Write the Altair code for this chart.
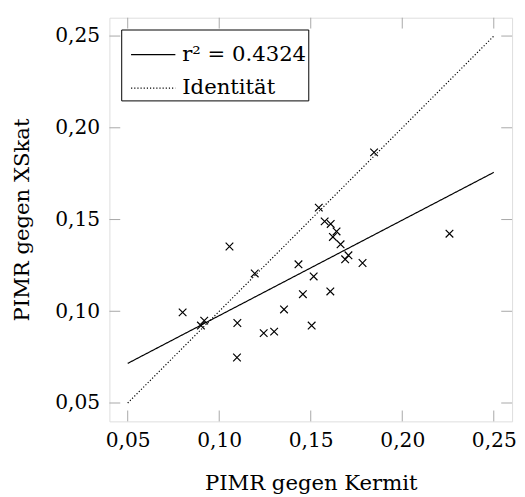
import altair as alt
import pandas as pd

# Scatter data
kermit = [0.1544, 0.1576, 0.1609, 0.1641, 0.1621, 0.1663, 0.1706, 0.1688, 0.1783,
          0.2258, 0.1056, 0.1194, 0.1433, 0.1516, 0.1457, 0.1607, 0.1354, 0.0800,
          0.0918, 0.0900, 0.1099, 0.1243, 0.1300, 0.1505, 0.1097, 0.1846]
xskat = [0.1565, 0.1490, 0.1476, 0.1435, 0.1405, 0.1365, 0.1305, 0.1283, 0.1263,
         0.1423, 0.1353, 0.1206, 0.1256, 0.1190, 0.1093, 0.1108, 0.1010, 0.0994,
         0.0949, 0.0922, 0.0936, 0.0881, 0.0889, 0.0922, 0.0748, 0.1866]

# Lines
line_names = ["r² = 0.4324", "r² = 0.4324", "Identität", "Identität"]
line_x = [0.05, 0.25, 0.05, 0.25]
line_y = [0.0716, 0.1757, 0.05, 0.25]

ticks = [0.05, 0.10, 0.15, 0.20, 0.25]
domain = [0.04, 0.26]

W, H = 409, 410
FONT = "DejaVu Serif"

pts = pd.DataFrame({"x": kermit, "y": xskat})
lines = pd.DataFrame({"name": line_names, "x": line_x, "y": line_y})
tk = pd.DataFrame({"t": ticks})

label_expr = "replace(datum.label, '.', ',')"
xscale = alt.Scale(domain=domain, nice=False, zero=False)
yscale = alt.Scale(domain=domain, nice=False, zero=False)

xaxis = alt.Axis(values=ticks, format=".2f", labelExpr=label_expr, title="PIMR gegen Kermit",
                 domain=False, ticks=False, grid=False, labelPadding=10, titlePadding=22,
                 labelFontSize=20.5, titleFontSize=21.5, labelFont=FONT, titleFont=FONT,
                 labelColor="black", titleColor="black", titleFontWeight="normal")
yaxis = alt.Axis(values=ticks, format=".2f", labelExpr=label_expr, title="PIMR gegen XSkat",
                 domain=False, ticks=False, grid=False, labelPadding=10, titlePadding=22,
                 labelFontSize=20.5, titleFontSize=21.5, labelFont=FONT, titleFont=FONT,
                 labelColor="black", titleColor="black", titleFontWeight="normal")

tick_color = "#a8a8a8"
tick_len = 11

bottom_ticks = alt.Chart(tk).mark_rule(color=tick_color, strokeWidth=1).encode(
    x=alt.X("t:Q", scale=xscale, axis=xaxis), y=alt.value(H), y2=alt.value(H - tick_len))
top_ticks = alt.Chart(tk).mark_rule(color=tick_color, strokeWidth=1).encode(
    x=alt.X("t:Q", scale=xscale), y=alt.value(0), y2=alt.value(tick_len))
left_ticks = alt.Chart(tk).mark_rule(color=tick_color, strokeWidth=1).encode(
    y=alt.Y("t:Q", scale=yscale, axis=yaxis), x=alt.value(0), x2=alt.value(tick_len))
right_ticks = alt.Chart(tk).mark_rule(color=tick_color, strokeWidth=1).encode(
    y=alt.Y("t:Q", scale=yscale), x=alt.value(W), x2=alt.value(W - tick_len))

line_layer = alt.Chart(lines).mark_line(color="black", strokeWidth=1.2).encode(
    x=alt.X("x:Q", scale=xscale),
    y=alt.Y("y:Q", scale=yscale),
    strokeDash=alt.StrokeDash(
        "name:N",
        scale=alt.Scale(domain=["r² = 0.4324", "Identität"], range=[[1, 0], [1.2, 2]]),
        legend=alt.Legend(title=None, orient="none", legendX=12, legendY=12,
                          symbolType="stroke", symbolSize=2025, symbolStrokeColor="black",
                          symbolStrokeWidth=1.2, labelFontSize=21.5, labelFont=FONT,
                          labelColor="black", fillColor="white", strokeColor="black",
                          padding=2, rowPadding=-9, labelOffset=6, symbolOffset=7),
    ),
    detail="name:N",
)

point_layer = alt.Chart(pts).mark_point(
    shape="M-1,-1L1,1M1,-1L-1,1", filled=False, color="black", strokeWidth=1.2, size=60, opacity=1
).encode(x=alt.X("x:Q", scale=xscale), y=alt.Y("y:Q", scale=yscale))

chart = alt.layer(bottom_ticks, top_ticks, left_ticks, right_ticks, line_layer, point_layer).properties(
    width=W, height=H,
    autosize=alt.AutoSizeParams(type="none"),
    padding={"left": 103, "top": 6, "right": 5, "bottom": 75},
).configure_view(stroke="#333333", strokeWidth=1.2).configure(background="white")

chart.save("out.html", embed_options={"renderer": "svg", "actions": False})
